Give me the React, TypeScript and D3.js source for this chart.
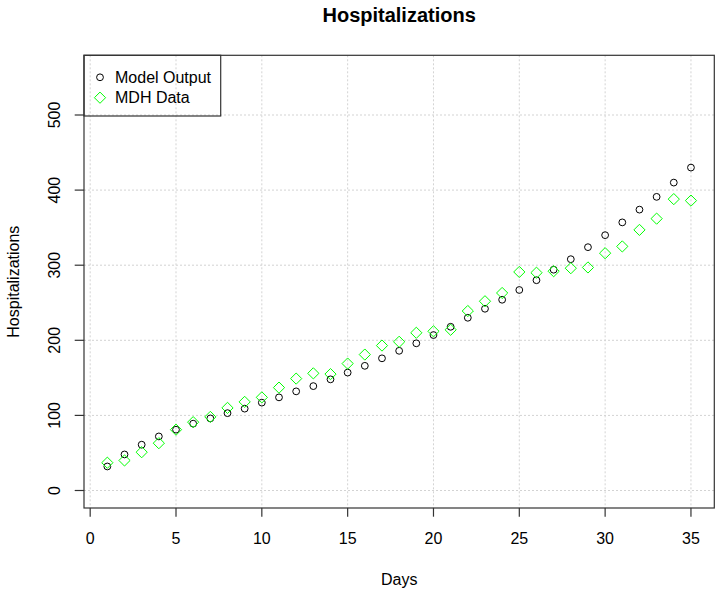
import React from "react";
import * as d3 from "d3";

const days: number[] = d3.range(1, 36);
const modelOutput: number[] = [
  32, 48, 61, 72, 81, 89, 96, 103, 109, 117, 124, 132, 139, 148, 157, 166, 176,
  186, 196, 207, 218, 230, 242, 254, 267, 280, 294, 308, 324, 340, 357, 374, 391,
  410, 430,
];
const mdhData: number[] = [
  37, 40, 51, 63, 81, 91, 98, 110, 118, 124, 137, 149, 156, 155, 169, 181, 193,
  198, 210, 212, 214, 239, 252, 263, 291, 290, 292, 296, 297, 316, 325, 347, 362,
  388, 386,
];
const xTicks: number[] = [0, 5, 10, 15, 20, 25, 30, 35];
const yTicks: number[] = [0, 100, 200, 300, 400, 500];
const legendLabels: string[] = ["Model Output", "MDH Data"];

const W = 718;
const H = 592;
const box = { left: 84, right: 714.3, top: 55.3, bottom: 508 };
const FONT = "'Liberation Sans', Arial, sans-serif";

export default function App() {
  const x = d3.scaleLinear().domain([-0.36, 36.36]).range([box.left, box.right]);
  const y = d3.scaleLinear().domain([0, 500]).range([490.5, 115]);
  const cx = (box.left + box.right) / 2;
  const cy = (box.top + box.bottom) / 2;
  const diamond = (px: number, py: number, r: number) =>
    `M${px},${py - r}L${px + r},${py}L${px},${py + r}L${px - r},${py}Z`;

  return (
    <div style={{ position: "absolute", left: 0, top: 0 }}>
      <svg width={W} height={H} style={{ display: "block", background: "#fff" }} fontFamily={FONT}>
        <rect x={0} y={0} width={W} height={H} fill="#fff" />
        {/* grid */}
        <g stroke="#d3d3d3" strokeWidth={1} strokeDasharray="2,2">
          {xTicks.map((t) => (
            <line key={"gx" + t} x1={x(t)} x2={x(t)} y1={box.top} y2={box.bottom} />
          ))}
          {yTicks.map((t) => (
            <line key={"gy" + t} x1={box.left} x2={box.right} y1={y(t)} y2={y(t)} />
          ))}
        </g>
        {/* points */}
        <g fill="none" stroke="#000" strokeWidth={1}>
          {days.map((d, i) => (
            <circle key={"m" + d} cx={x(d)} cy={y(modelOutput[i])} r={3.4} />
          ))}
        </g>
        <g fill="none" stroke="#00ff00" strokeWidth={1}>
          {days.map((d, i) => (
            <path key={"d" + d} d={diamond(x(d), y(mdhData[i]), 5.6)} />
          ))}
        </g>
        {/* box */}
        <rect
          x={box.left}
          y={box.top}
          width={box.right - box.left}
          height={box.bottom - box.top}
          fill="none"
          stroke="#333"
          strokeWidth={1.2}
        />
        {/* axes ticks */}
        <g stroke="#333" strokeWidth={1.2}>
          {xTicks.map((t) => (
            <line key={"tx" + t} x1={x(t)} x2={x(t)} y1={box.bottom} y2={box.bottom + 8.7} />
          ))}
          {yTicks.map((t) => (
            <line key={"ty" + t} x1={box.left} x2={box.left - 9.3} y1={y(t)} y2={y(t)} />
          ))}
        </g>
        <g fontSize={16} fill="#000" textAnchor="middle">
          {xTicks.map((t) => (
            <text key={"lx" + t} x={x(t)} y={544}>
              {t}
            </text>
          ))}
          {yTicks.map((t) => (
            <text key={"ly" + t} transform={`translate(60,${y(t)}) rotate(-90)`}>
              {t}
            </text>
          ))}
        </g>
        {/* titles */}
        <text x={cx} y={21.5} textAnchor="middle" fontSize={20} fontWeight="bold">
          Hospitalizations
        </text>
        <text x={cx} y={585} textAnchor="middle" fontSize={16}>
          Days
        </text>
        <text transform={`translate(19,${cy}) rotate(-90)`} textAnchor="middle" fontSize={16}>
          Hospitalizations
        </text>
        {/* legend */}
        <rect x={box.left} y={box.top} width={136.7} height={60.7} fill="none" stroke="#333" strokeWidth={1.2} />
        <circle cx={100} cy={77.3} r={3.4} fill="none" stroke="#000" strokeWidth={1} />
        <path d={diamond(100, 97.7, 5.6)} fill="none" stroke="#00ff00" strokeWidth={1} />
        <text x={115} y={83} fontSize={16}>
          {legendLabels[0]}
        </text>
        <text x={115} y={103.4} fontSize={16}>
          {legendLabels[1]}
        </text>
      </svg>
    </div>
  );
}
